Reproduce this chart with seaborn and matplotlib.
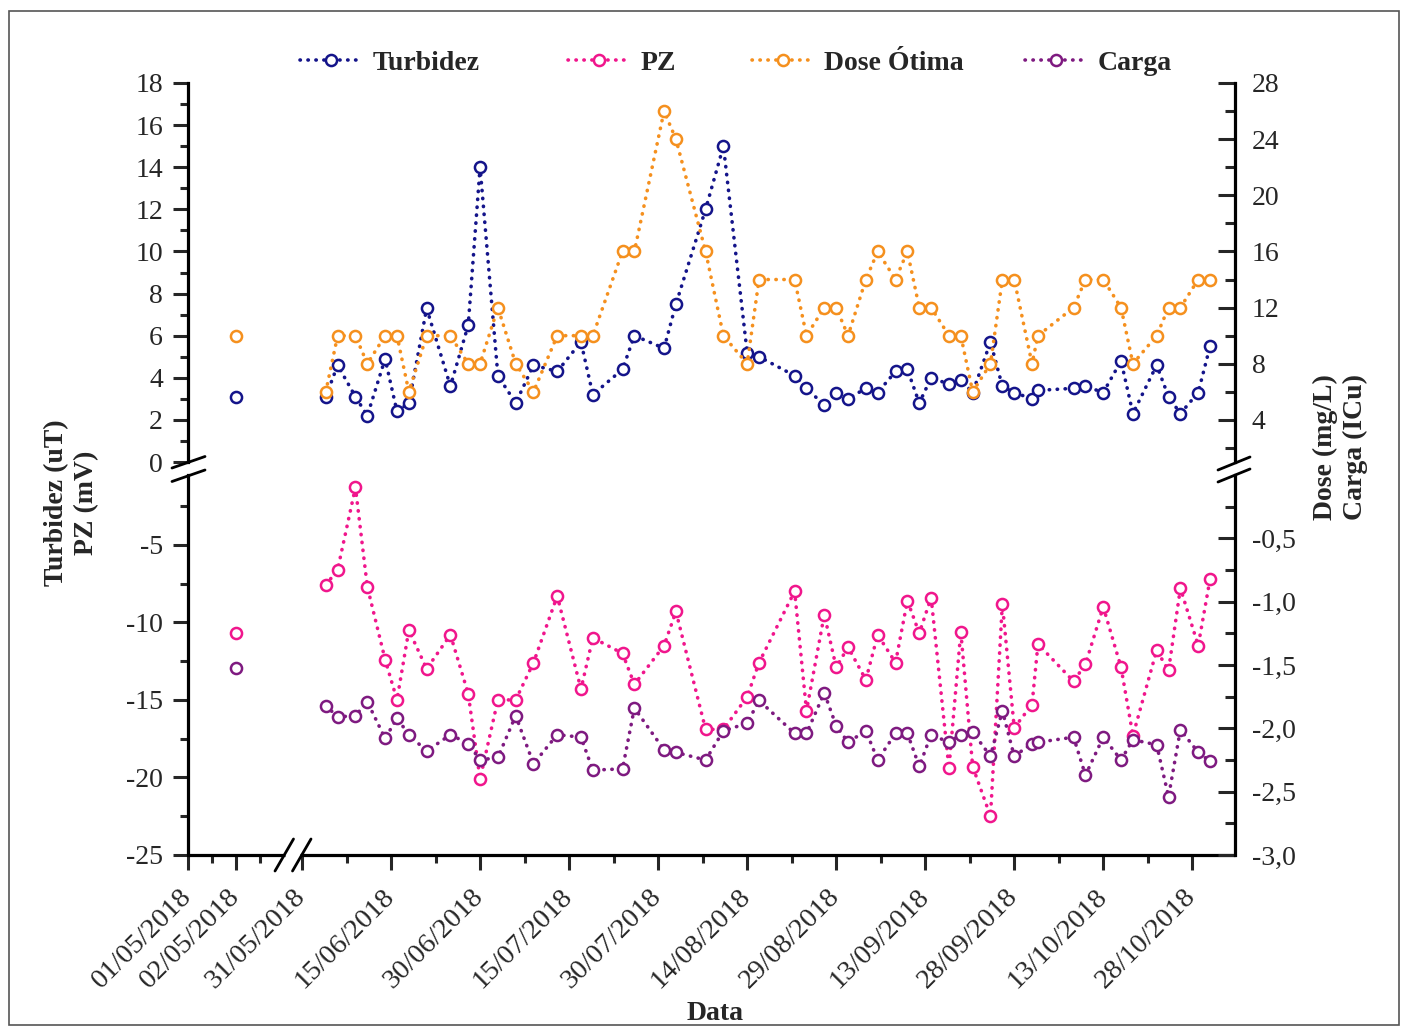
import numpy as np
import pandas as pd
import matplotlib
matplotlib.use("Agg")
import matplotlib.pyplot as plt
import seaborn as sns
from matplotlib.lines import Line2D
from matplotlib.patches import Rectangle
from matplotlib.ticker import FixedLocator, FixedFormatter, MultipleLocator, FuncFormatter

# ---------------------------------------------------------------- data
dates = [
    "02/05/2018",
    "04/06/2018", "06/06/2018", "09/06/2018", "11/06/2018", "14/06/2018", "16/06/2018",
    "18/06/2018", "21/06/2018", "25/06/2018", "28/06/2018", "30/06/2018", "03/07/2018",
    "06/07/2018", "09/07/2018", "13/07/2018", "17/07/2018", "19/07/2018", "24/07/2018",
    "26/07/2018", "31/07/2018", "02/08/2018", "07/08/2018", "10/08/2018", "14/08/2018",
    "16/08/2018", "22/08/2018", "24/08/2018", "27/08/2018", "29/08/2018", "31/08/2018",
    "03/09/2018", "05/09/2018", "08/09/2018", "10/09/2018", "12/09/2018", "14/09/2018",
    "17/09/2018", "19/09/2018", "21/09/2018", "24/09/2018", "26/09/2018", "28/09/2018",
    "01/10/2018", "02/10/2018", "08/10/2018", "10/10/2018", "13/10/2018", "16/10/2018",
    "18/10/2018", "22/10/2018", "24/10/2018", "26/10/2018", "29/10/2018", "31/10/2018",
]

# Turbidez (uT)
turbidez = [
    3.1,
    3.1, 4.6, 3.1, 2.2, 4.9, 2.4, 2.8, 7.3, 3.6, 6.5, 14.0, 4.1,
    2.8, 4.6, 4.3, 5.7, 3.2, 4.4, 6.0, 5.4, 7.5, 12.0, 15.0, 5.2,
    5.0, 4.1, 3.5, 2.7, 3.3, 3.0, 3.5, 3.3, 4.3, 4.4, 2.8, 4.0,
    3.7, 3.9, 3.3, 5.7, 3.6, 3.3, 3.0, 3.4, 3.5, 3.6, 3.3, 4.8,
    2.3, 4.6, 3.1, 2.3, 3.3, 5.5,
]

# Dose Ótima (mg/L)
dose = [
    10,
    6, 10, 10, 8, 10, 10, 6, 10, 10, 8, 8, 12,
    8, 6, 10, 10, 10, 16, 16, 26, 24, 16, 10, 8,
    14, 14, 10, 12, 12, 10, 14, 16, 14, 16, 12, 12,
    10, 10, 6, 8, 14, 14, 8, 10, 12, 14, 14, 12,
    8, 10, 12, 12, 14, 14,
]

# PZ (mV)
pz = [
    -10.7,
    -7.6, -6.6, -1.3, -7.7, -12.4, -15.0, -10.5, -13.0, -10.8, -14.6, -20.1, -15.0,
    -15.0, -12.6, -8.3, -14.3, -11.0, -12.0, -14.0, -11.5, -9.3, -16.9, -16.9, -14.8,
    -12.6, -8.0, -15.7, -9.5, -12.9, -11.6, -13.7, -10.8, -12.6, -8.6, -10.7, -8.4,
    -19.4, -10.6, -19.3, -22.5, -8.8, -16.8, -15.3, -11.4, -13.8, -12.7, -9.0, -12.9,
    -17.3, -11.8, -13.1, -7.8, -11.5, -7.2,
]

# Carga (ICu)
carga = [
    -1.52,
    -1.82, -1.91, -1.90, -1.79, -2.08, -1.92, -2.05, -2.18, -2.05, -2.12, -2.25, -2.23,
    -1.90, -2.28, -2.05, -2.07, -2.33, -2.32, -1.84, -2.17, -2.19, -2.25, -2.02, -1.96,
    -1.78, -2.04, -2.04, -1.72, -1.98, -2.11, -2.02, -2.25, -2.04, -2.04, -2.30, -2.05,
    -2.11, -2.05, -2.03, -2.22, -1.86, -2.22, -2.12, -2.11, -2.07, -2.37, -2.07, -2.25,
    -2.09, -2.13, -2.54, -2.01, -2.19, -2.26,
]

tick_dates = [
    "01/05/2018", "02/05/2018", "31/05/2018", "15/06/2018", "30/06/2018", "15/07/2018",
    "30/07/2018", "14/08/2018", "29/08/2018", "13/09/2018", "28/09/2018", "13/10/2018",
    "28/10/2018",
]

# ---------------------------------------------------------------- helpers
ORIGIN = pd.Timestamp("2018-05-01")


def day_offset(strings):
    ts = pd.to_datetime(pd.Series(strings), format="%d/%m/%Y")
    return ((ts - ORIGIN) / pd.Timedelta(days=1)).to_numpy(dtype=float)


x_days = day_offset(dates)
# the lone early-May sample is not joined to the June-October series
segment = np.where(x_days < 10, 0, 1)

df = pd.DataFrame({
    "dia": x_days, "seg": segment,
    "Turbidez": turbidez, "Dose": dose, "PZ": pz, "Carga": carga,
})

# broken time axis: first days of May stretched, gap squeezed, then 15 days per 89 units
D_KNOTS = np.array([-30.0, 0.0, 2.0, 30.0, 400.0])
U_KNOTS = np.array([-30 * 48.0, 0.0, 96.0, 114.0, 114.0 + 370 * 89.0 / 15.0])


def fwd(d):
    return np.interp(d, D_KNOTS, U_KNOTS)


def inv(u):
    return np.interp(u, U_KNOTS, D_KNOTS)


# ---------------------------------------------------------------- style
sns.set_theme(style="ticks")
plt.rcParams["font.family"] = ["Liberation Serif", "DejaVu Serif"]
plt.rcParams["axes.unicode_minus"] = False

W, H = 1408, 1027
fig = plt.figure(figsize=(W / 100, H / 100), dpi=100)


def fx(px):
    return px / W


def fy(py):
    return 1 - py / H


L, R = 188, 1235
ax_u = fig.add_axes([fx(L), fy(462), fx(R) - fx(L), fy(83) - fy(462)])
ax_l = fig.add_axes([fx(L), fy(855), fx(R) - fx(L), fy(475) - fy(855)], sharex=ax_u)
ax_u2 = ax_u.twinx()
ax_l2 = ax_l.twinx()

C_TURB = "#14148a"
C_PZ = "#f0168c"
C_DOSE = "#f5901e"
C_CARGA = "#7e1a80"

DOTTED = (0, (0.1, 2.1))
line_kw = dict(
    estimator=None, units="seg", sort=True, legend=False,
    marker="o", markersize=8, markerfacecolor="white", markeredgewidth=1.8,
    linewidth=2.6, linestyle=DOTTED, dash_capstyle="round",
)

sns.lineplot(data=df, x="dia", y="Turbidez", ax=ax_u, color=C_TURB,
             markeredgecolor=C_TURB, **line_kw)
sns.lineplot(data=df, x="dia", y="Dose", ax=ax_u2, color=C_DOSE,
             markeredgecolor=C_DOSE, **line_kw)
sns.lineplot(data=df, x="dia", y="PZ", ax=ax_l, color=C_PZ,
             markeredgecolor=C_PZ, **line_kw)
sns.lineplot(data=df, x="dia", y="Carga", ax=ax_l2, color=C_CARGA,
             markeredgecolor=C_CARGA, **line_kw)

ax_l.set_xscale("function", functions=(fwd, inv))
ax_l.set_xlim(0, 187.2)

ax_u.set_ylim(0, 18)
ax_u2.set_ylim(1, 28)
ax_l.set_ylim(-25, -0.5)
ax_l2.set_ylim(-3, 0)

for a in (ax_u, ax_u2, ax_l, ax_l2):
    a.set_xlabel("")
    a.set_ylabel("")
    a.patch.set_visible(False)
    for s in a.spines.values():
        s.set_linewidth(2.3)
        s.set_color("black")

# spines
for a in (ax_u, ax_l):
    a.spines["top"].set_visible(False)
    a.spines["right"].set_visible(False)
for a in (ax_u2, ax_l2):
    a.spines["top"].set_visible(False)
    a.spines["left"].set_visible(False)
    a.spines["bottom"].set_visible(False)
ax_u.spines["bottom"].set_visible(False)
ax_l.spines["bottom"].set_visible(False)

# y ticks
TICK_FS = 20
ax_u.yaxis.set_major_locator(MultipleLocator(2))
ax_u.yaxis.set_minor_locator(MultipleLocator(1))
ax_u.yaxis.set_major_formatter(FuncFormatter(lambda v, p: f"{v:g}"))
ax_u2.yaxis.set_major_locator(MultipleLocator(4))
ax_u2.yaxis.set_minor_locator(MultipleLocator(2))
ax_u2.yaxis.set_major_formatter(FuncFormatter(lambda v, p: f"{v:g}"))

ax_l.yaxis.set_major_locator(MultipleLocator(5))
ax_l.yaxis.set_minor_locator(MultipleLocator(2.5))
ax_l.yaxis.set_major_formatter(FuncFormatter(lambda v, p: f"{v:g}"))
ax_l2.yaxis.set_major_locator(FixedLocator(np.arange(-3.0, -0.49, 0.5)))
ax_l2.yaxis.set_minor_locator(FixedLocator(np.arange(-2.75, -0.24, 0.5)))
ax_l2.yaxis.set_major_formatter(FuncFormatter(lambda v, p: f"{v:.1f}".replace(".", ",")))

for a in (ax_u, ax_l):
    a.tick_params(axis="y", which="major", direction="out", length=11, width=2.2,
                  pad=7, labelsize=TICK_FS, left=True, right=False)
    a.tick_params(axis="y", which="minor", direction="out", length=6, width=2.2,
                  left=True, right=False)
for a in (ax_u2, ax_l2):
    a.tick_params(axis="y", which="major", direction="in", length=12, width=2.2,
                  pad=12, labelsize=TICK_FS, right=True, left=False)
    a.tick_params(axis="y", which="minor", direction="in", length=7, width=2.2,
                  right=True, left=False)

# x ticks (broken date axis)
major_x = day_offset(tick_dates)
minor_x = np.concatenate([[0.5, 1.5], 30 + 7.5 + 15 * np.arange(11)])
ax_l.xaxis.set_major_locator(FixedLocator(major_x))
ax_l.xaxis.set_major_formatter(FixedFormatter(tick_dates))
ax_l.xaxis.set_minor_locator(FixedLocator(minor_x))
ax_l.tick_params(axis="x", which="major", direction="out", length=11, width=2.2,
                 pad=16, labelsize=20.5, bottom=True, top=False)
ax_l.tick_params(axis="x", which="minor", direction="out", length=6, width=2.2,
                 bottom=True, top=False)
for lab in ax_l.get_xticklabels():
    lab.set_rotation(45)
    lab.set_ha("right")
    lab.set_va("center")
    lab.set_rotation_mode("anchor")
ax_u.tick_params(axis="x", which="both", bottom=False, labelbottom=False)

# bottom spine drawn in two pieces around the time break
span = R - L
for x0, x1 in ((0.0, 97.0 / span), (112.0 / span, 1.0)):
    ax_l.add_line(Line2D([x0, x1], [0, 0], transform=ax_l.transAxes,
                         color="black", lw=2.3, clip_on=False, solid_capstyle="butt"))

# break marks
def slash(p0, p1):
    fig.add_artist(Line2D([fx(p0[0]), fx(p1[0])], [fy(p0[1]), fy(p1[1])],
                          transform=fig.transFigure, color="black", lw=2.0))


slash((172, 468), (205, 456.5))
slash((172, 481.5), (205, 470))
slash((1218, 470), (1250, 457))
slash((1218, 482), (1250, 469))
slash((275, 871), (293.5, 839))
slash((292.5, 871), (311, 839))

# axis titles
TITLE_KW = dict(fontsize=20, fontweight="bold", rotation=90, ha="center",
                va="center", multialignment="center", linespacing=1.25)
fig.text(fx(72), fy(503), "Turbidez (uT)\nPZ (mV)", **TITLE_KW)
fig.text(fx(1340), fy(447), "Dose (mg/L)\nCarga (ICu)", **TITLE_KW)
fig.text(fx(715), fy(1013), "Data", fontsize=20, fontweight="bold",
         ha="center", va="center")

# legend entries placed along the top
entries = [
    ("Turbidez", C_TURB, 300),
    ("PZ", C_PZ, 568),
    ("Dose Ótima", C_DOSE, 752),
    ("Carga", C_CARGA, 1025),
]
for label, color, xpos in entries:
    h = Line2D([], [], color=color, marker="o", markersize=8, markerfacecolor="white",
               markeredgecolor=color, markeredgewidth=1.8, linewidth=2.6,
               linestyle=DOTTED, dash_capstyle="round")
    fig.legend(handles=[h], labels=[label], loc="center left",
               bbox_to_anchor=(fx(xpos), fy(63)), frameon=False,
               prop={"size": 20, "weight": "bold"}, handlelength=2.25,
               handletextpad=0.35, borderpad=0, borderaxespad=0)

# outer frame
fig.add_artist(Rectangle((fx(9), fy(1025)), fx(1399) - fx(9), fy(11) - fy(1025),
                         transform=fig.transFigure, fill=False,
                         edgecolor="#555555", lw=1.2))

fig.savefig("out.png", dpi=100)
